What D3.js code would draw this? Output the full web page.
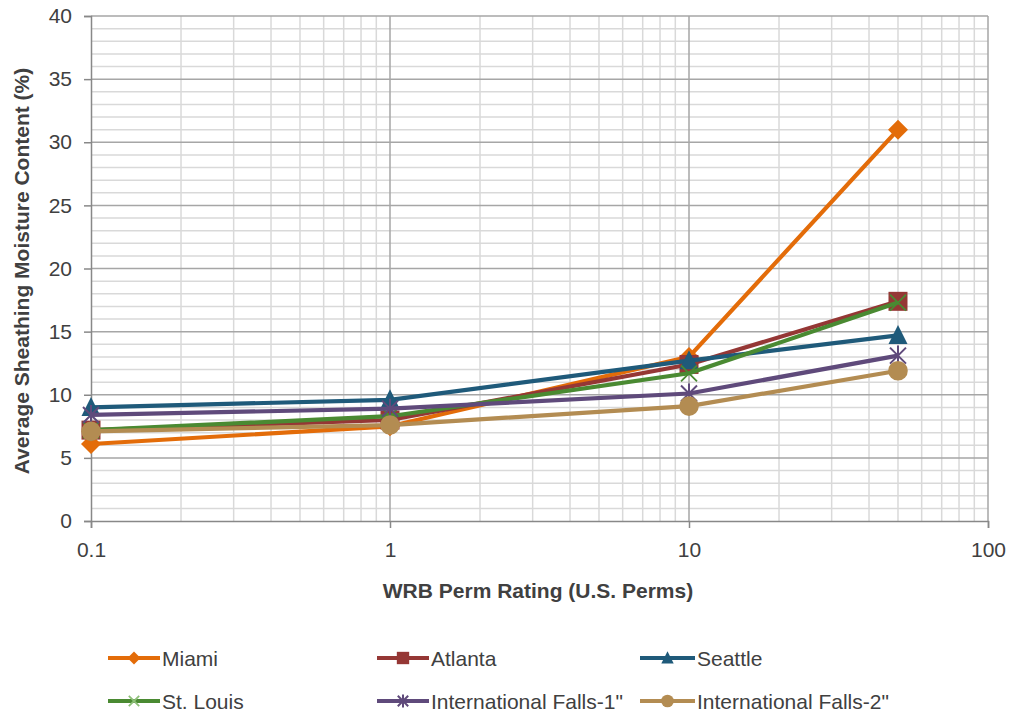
<!DOCTYPE html>
<html>
<head>
<meta charset="utf-8">
<script src="https://cdn.jsdelivr.net/npm/d3@7"></script>
<style>
  body { margin: 0; background: #fff; }
  text { font-family: "Liberation Sans", Arial, sans-serif; fill: #404040; }
</style>
</head>
<body>
<script>
// perm ratings (x) and moisture content per city
var perms = [0.1, 1, 10, 50];
var seriesNames = ["Miami", "Atlanta", "Seattle", "St. Louis", "International Falls-1\"", "International Falls-2\""];
var miami   = [6.1, 7.5, 13.0, 31.0];
var atlanta = [7.2, 8.0, 12.4, 17.4];
var seattle = [9.0, 9.6, 12.7, 14.7];
var stLouis = [7.2, 8.3, 11.7, 17.3];
var intFalls1 = [8.4, 8.9, 10.1, 13.1];
var intFalls2 = [7.1, 7.6, 9.1, 11.9];
var yTicks = [0, 5, 10, 15, 20, 25, 30, 35, 40];
var xTicks = [0.1, 1, 10, 100];

var allValues = [miami, atlanta, seattle, stLouis, intFalls1, intFalls2];
var colors = ["#E36C09", "#953735", "#1F5A7A", "#4A8A32", "#5F4A7B", "#B38C52"];
var shapes = ["diamond", "square", "triangle", "x", "star", "circle"];

var svg = d3.select("body").append("svg")
    .attr("width", 1012)
    .attr("height", 717);

var x = d3.scaleLog().domain([0.1, 100]).range([91, 988]);
var y = d3.scaleLinear().domain([0, 40]).range([521, 16]);

var grid = svg.append("g");

// minor grid
var minorY = d3.range(0, 41, 1).filter(function (d) { return d % 5 != 0; });
grid.selectAll(".my").data(minorY).enter().append("line")
    .attr("x1", x(0.1)).attr("x2", x(100))
    .attr("y1", function (d) { return y(d); }).attr("y2", function (d) { return y(d); })
    .attr("stroke", "#d9d9d9").attr("stroke-width", 1.5);

var minorX = [];
[0.1, 1, 10].forEach(function (b) {
  for (var k = 2; k <= 9; k++) minorX.push(b * k);
});
grid.selectAll(".mx").data(minorX).enter().append("line")
    .attr("y1", y(0)).attr("y2", y(40))
    .attr("x1", function (d) { return x(d); }).attr("x2", function (d) { return x(d); })
    .attr("stroke", "#d9d9d9").attr("stroke-width", 1.5);

// major grid
grid.selectAll(".My").data(yTicks.slice(1)).enter().append("line")
    .attr("x1", x(0.1)).attr("x2", x(100))
    .attr("y1", function (d) { return y(d); }).attr("y2", function (d) { return y(d); })
    .attr("stroke", "#a6a6a6").attr("stroke-width", 1.5);
grid.selectAll(".Mx").data(xTicks.slice(1)).enter().append("line")
    .attr("y1", y(0)).attr("y2", y(40))
    .attr("x1", function (d) { return x(d); }).attr("x2", function (d) { return x(d); })
    .attr("stroke", "#a6a6a6").attr("stroke-width", 1.5);

// axes
var yAxis = svg.append("g")
    .attr("transform", "translate(" + x(0.1) + ",0)")
    .call(d3.axisLeft(y).tickValues(yTicks).tickSize(7).tickPadding(12).tickFormat(d3.format("d")));
var xAxis = svg.append("g")
    .attr("transform", "translate(0," + y(0) + ")")
    .call(d3.axisBottom(x).tickValues(xTicks).tickSize(7).tickPadding(14).tickFormat(function (d) { return d; }));

[yAxis, xAxis].forEach(function (a) {
  a.select(".domain").attr("stroke", "#888").attr("stroke-width", 1.5);
  a.selectAll(".tick line").attr("stroke", "#888").attr("stroke-width", 1.5);
  a.selectAll(".tick text").style("font-size", "21px").attr("fill", "#404040")
    .style("font-family", "'Liberation Sans', Arial, sans-serif");
});

// axis titles
svg.append("text")
    .attr("x", 538).attr("y", 598)
    .attr("text-anchor", "middle")
    .style("font-size", "21px").style("font-weight", "bold")
    .text("WRB Perm Rating (U.S. Perms)");
svg.append("text")
    .attr("transform", "translate(29,271) rotate(-90)")
    .attr("text-anchor", "middle")
    .style("font-size", "21px").style("font-weight", "bold")
    .text("Average Sheathing Moisture Content (%)");

// r = half size of the marker
function drawMarker(g, shape, color, r, xColor) {
  if (shape == "diamond") {
    g.append("path").attr("d", "M0," + (-r) + "L" + r + ",0L0," + r + "L" + (-r) + ",0Z")
      .attr("fill", color);
  } else if (shape == "square") {
    g.append("rect").attr("x", -r * 0.95).attr("y", -r * 0.95)
      .attr("width", r * 1.9).attr("height", r * 1.9).attr("fill", color);
  } else if (shape == "triangle") {
    g.append("path").attr("d", "M0," + (-r * 1.05) + "L" + r * 0.95 + "," + r * 0.85 + "L" + (-r * 0.95) + "," + r * 0.85 + "Z")
      .attr("fill", color);
  } else if (shape == "circle") {
    g.append("circle").attr("r", r * 0.98).attr("fill", color);
  } else if (shape == "x") {
    var a = r * 0.8;
    g.append("path").attr("d", "M" + (-a) + "," + (-a) + "L" + a + "," + a + "M" + (-a) + "," + a + "L" + a + "," + (-a))
      .attr("stroke", xColor).attr("stroke-width", 1.8).attr("fill", "none");
  } else if (shape == "star") {
    var b = r * 0.8;
    g.append("path").attr("d", "M" + (-b) + "," + (-b) + "L" + b + "," + b + "M" + (-b) + "," + b + "L" + b + "," + (-b) + "M0," + (-r) + "L0," + r)
      .attr("stroke", color).attr("stroke-width", 2).attr("fill", "none");
  }
}

var line = d3.line()
    .x(function (d, i) { return x(perms[i]); })
    .y(function (d) { return y(d); });

var plot = svg.append("g");
allValues.forEach(function (vals, s) {
  plot.append("path")
      .attr("d", line(vals))
      .attr("fill", "none")
      .attr("stroke", colors[s])
      .attr("stroke-width", 4.2)
      .attr("stroke-linejoin", "round");
  vals.forEach(function (v, i) {
    var g = plot.append("g").attr("transform", "translate(" + x(perms[i]) + "," + y(v) + ")");
    drawMarker(g, shapes[s], colors[s], 10, "#4A8A32");
  });
});

// legend
var legX = [108, 377, 640];
var legY = [658, 701];
seriesNames.forEach(function (name, s) {
  var lx = legX[s % 3], ly = legY[Math.floor(s / 3)];
  var lw = (s == 2 || s == 5) ? 55 : 52;
  var g = svg.append("g").attr("transform", "translate(" + lx + "," + ly + ")");
  g.append("line").attr("x1", 0).attr("x2", lw).attr("y1", 0).attr("y2", 0)
    .attr("stroke", colors[s]).attr("stroke-width", 4);
  var m = g.append("g").attr("transform", "translate(" + lw / 2 + ",0)");
  drawMarker(m, shapes[s], colors[s], 6.5, "#8dbf78");
  g.append("text").attr("x", lw + 2).attr("y", 7.5)
    .style("font-size", "21px").attr("fill", "#404040")
    .text(name);
});
</script>
</body>
</html>
